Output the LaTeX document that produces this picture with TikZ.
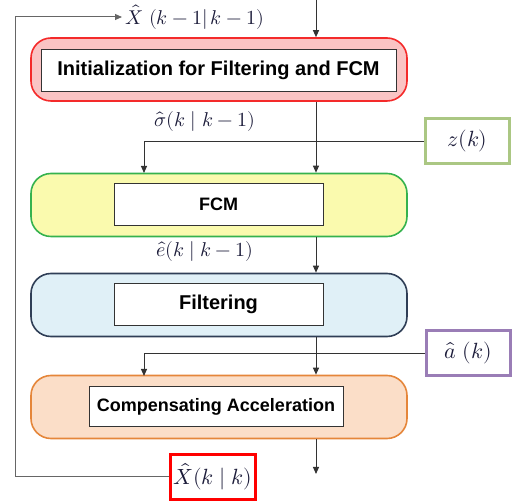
\documentclass[tikz,border=0pt]{standalone}
\usepackage{amsmath, amssymb}
\usepackage{fontspec}
\usepackage{unicode-math}
\setmathfont{Latin Modern Math}
\setsansfont{Liberation Sans}
\usepackage{tikz}
\usetikzlibrary{arrows.meta}
\definecolor{initfill}{HTML}{FAC4C4}
\definecolor{initline}{HTML}{F42A2A}
\definecolor{fcmfill}{HTML}{FAFAAE}
\definecolor{fcmline}{HTML}{35B24E}
\definecolor{filtfill}{HTML}{E0F0F7}
\definecolor{filtline}{HTML}{2F3E56}
\definecolor{compfill}{HTML}{FBDEC8}
\definecolor{compline}{HTML}{E5863A}
\definecolor{zline}{HTML}{ABC783}
\definecolor{aline}{HTML}{9A7DB6}
\definecolor{lblcol}{HTML}{1C1C3A}

\begin{document}
\begin{tikzpicture}[x=1pt, y=-1pt,
  stage/.style={rounded corners=20pt, line width=1.6pt, minimum width=376pt, minimum height=63pt},
  inbox/.style={draw=black!80, fill=white, line width=1pt, minimum height=42pt,
    font=\sffamily\bfseries\fontsize{18}{20}\selectfont},
  bigtext/.style={font=\sffamily\bfseries\fontsize{20}{22}\selectfont},
  inp/.style={draw, fill=white, line width=3pt, minimum width=84pt, minimum height=45pt,
    font=\fontsize{22}{26}\selectfont, text=lblcol},
  lbl/.style={font=\fontsize{20}{24}\selectfont, text=lblcol},
  flow/.style={-{Triangle[length=7pt,width=6pt]}, black!80, line width=1pt}]
\useasboundingbox (0,0) rectangle (515,502);

\node[stage, draw=initline, fill=initfill] (init) at (219,69.5) {};
\node[inbox, bigtext, minimum width=355pt] (initin) at (218.5,70.5) {Initialization for Filtering and FCM};
\node[stage, draw=fcmline, fill=fcmfill] (fcm) at (219,205) {};
\node[inbox, minimum width=209pt] (fcmin) at (218.5,204.5) {FCM};
\node[stage, draw=filtline, fill=filtfill] (filt) at (219,305) {};
\node[inbox, bigtext, minimum width=209pt] (filtin) at (218.5,304.5) {Filtering};
\node[stage, draw=compline, fill=compfill] (comp) at (219,407) {};
\node[inbox, minimum width=254pt, minimum height=40pt] (compin) at (216,407) {Compensating Acceleration};

\node[inp, draw=zline] (z) at (467.5,141.5) {$z(k)$};
\node[inp, draw=aline] (a) at (468,353.5) {$\hat{a}\ (k)$};
\node[inp, draw=red] (xk) at (213,477) {$\hat{X}(k\mid k)$};

\node[lbl, anchor=west] (xprev) at (122,17) {$\hat{X}\ (k-1|\,k-1)$};
\node[lbl] (sig) at (205,122) {$\hat{\sigma}(k\mid k-1)$};
\node[lbl] (err) at (205,252) {$\hat{e}(k\mid k-1)$};

\coordinate (top) at (316,0);
\coordinate (out) at (316,474);
\coordinate (zdrop) at (144,173);
\coordinate (adrop) at (144,376);
\coordinate (fb) at (15,477);

\draw[flow] (top) -- (top |- init.north);
\draw[flow] (top |- init.south) -- (top |- fcm.north);
\draw[flow] (top |- fcm.south) -- (top |- filt.north);
\draw[flow] (top |- filt.south) -- (top |- comp.north);
\draw[flow] (top |- comp.south) -- (out);
\draw[flow] (z.west) -| (zdrop);
\draw[flow] (a.west) -| (adrop);
\draw[flow, black!60] (xk.west) -- (fb) |- (xprev.west);
\end{tikzpicture}
\end{document}
